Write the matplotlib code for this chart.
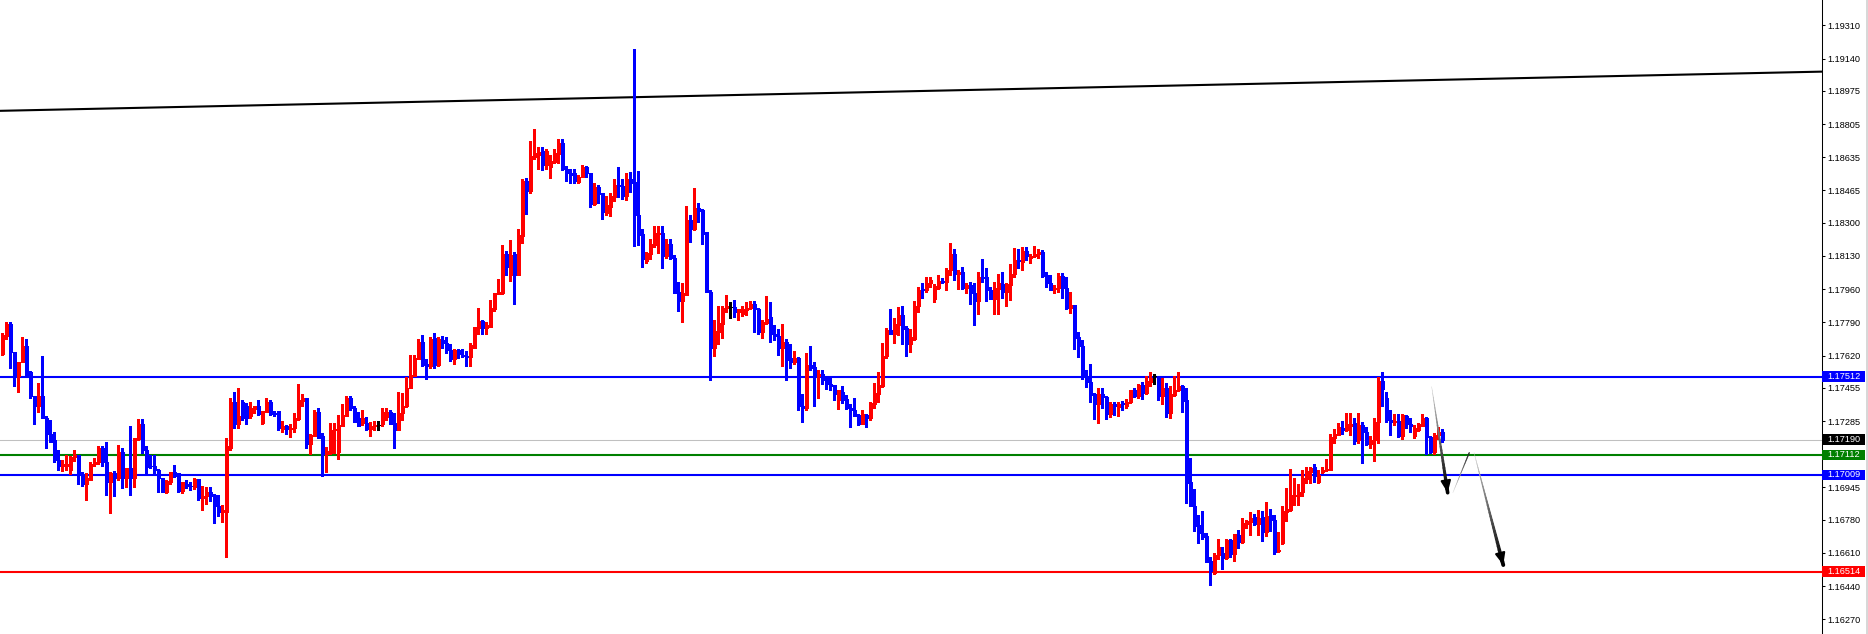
import numpy as np
import matplotlib
matplotlib.use("Agg")
from matplotlib import pyplot as plt
from matplotlib.patches import Rectangle
from matplotlib.transforms import blended_transform_factory

## velas (precio en puntos de 1e-5)
aperturas = [
    117630, 117719, 117784, 117637, 117518, 117586, 117671, 117535, 117412, 117360,
    117415, 117299, 117217, 117186, 117087, 117053, 117053, 117036, 117101, 117111,
    117012, 116961, 116985, 117063, 117074, 117145, 117077, 116971, 117019, 116992,
    117128, 116992, 117043, 116992, 117193, 117272, 117135, 117056, 117056, 117036,
    116995, 116920, 116974, 117026, 117019, 116927, 116964, 116954, 116947, 116988,
    116889, 116899, 116923, 116906, 116851, 116817, 116821, 117149, 117384, 117268,
    117384, 117360, 117309, 117347, 117360, 117275, 117333, 117384, 117326, 117337,
    117244, 117261, 117244, 117248, 117296, 117388, 117401, 117166, 117210, 117333,
    117207, 117114, 117121, 117237, 117128, 117261, 117313, 117405, 117354, 117302,
    117275, 117275, 117244, 117261, 117265, 117268, 117306, 117333, 117275, 117241,
    117326, 117361, 117453, 117518, 117603, 117692, 117579, 117566, 117712, 117572,
    117702, 117685, 117651, 117600, 117651, 117624, 117620, 117613, 117661, 117760,
    117798, 117760, 117767, 117859, 117935, 117941, 118139, 118030, 118139, 118034,
    118232, 118512, 118461, 118635, 118648, 118666, 118594, 118584, 118611, 118652,
    118707, 118577, 118553, 118553, 118508, 118536, 118587, 118553, 118396, 118481,
    118450, 118351, 118382, 118433, 118495, 118488, 118437, 118522, 118508, 118341,
    118242, 118102, 118139, 118184, 118242, 118245, 118129, 118191, 118119, 117945,
    117900, 117931, 118314, 118266, 118375,
    118365, 118252, 117948, 117661, 117743, 117784, 117862, 117869, 117869, 117842,
    117835, 117852, 117862, 117883, 117856, 117743, 117787, 117815, 117733, 117722,
    117658, 117692, 117606, 117589, 117610, 117364, 117350, 117572, 117562, 117514,
    117524, 117504, 117476, 117470, 117394, 117435, 117398, 117353, 117343, 117316,
    117268, 117316, 117299, 117374, 117425, 117463, 117617, 117753, 117733, 117777,
    117828, 117760, 117681, 117705, 117873, 117962, 117955, 117992, 117910, 117968,
    118003, 117996, 118057, 118139, 118037, 118050, 117965, 117979, 117941, 117897,
    118023, 118020, 117955, 117910, 117962,
    117988, 117944, 117981, 118040, 118111, 118101, 118156, 118118, 118128, 118139,
    118152, 118033, 117992, 117961, 117964, 118026, 117968, 117862, 117879, 117715,
    117671, 117513, 117486, 117421, 117373, 117421, 117408, 117319, 117370, 117356,
    117377, 117360, 117380, 117442, 117411, 117469, 117431, 117486, 117513, 117513,
    117411, 117455, 117326, 117418, 117445, 117462, 117394, 116974, 116851, 116752,
    116714, 116697, 116567, 116509, 116598, 116612, 116584, 116677, 116605, 116704,
    116666, 116759, 116769, 116793, 116759, 116793, 116718, 116803, 116776, 116618,
    116659, 116820, 116830, 116899, 116902,
    116923, 116988, 117025, 117049, 116974, 117025, 117032, 117035, 117199, 117216,
    117251, 117237, 117261, 117274, 117186, 117264, 117230, 117165, 117186, 117278,
    117490, 117404, 117292, 117278, 117285, 117206, 117309, 117268, 117210, 117240,
    117261, 117302, 117203, 117128, 117213, 117230,
]
maximos = [
    117736, 117794, 117794, 117637, 117589, 117716, 117705, 117541, 117412, 117480,
    117620, 117313, 117289, 117231, 117138, 117087, 117111, 117108, 117135, 117111,
    117022, 117019, 117074, 117094, 117156, 117156, 117179, 117022, 117029, 117162,
    117145, 117043, 117261, 117196, 117296, 117296, 117156, 117111, 117111, 117039,
    116995, 116985, 117026, 117060, 117019, 116974, 116985, 116971, 116992, 116988,
    116951, 116947, 116947, 116910, 116906, 116855, 117200, 117405, 117436, 117456,
    117395, 117378, 117384, 117364, 117391, 117337, 117401, 117395, 117337, 117337,
    117285, 117265, 117268, 117326, 117473, 117425, 117401, 117217, 117343, 117350,
    117224, 117152, 117275, 117275, 117316, 117374, 117412, 117412, 117360, 117330,
    117343, 117306, 117282, 117285, 117285, 117350, 117350, 117343, 117326, 117432,
    117429, 117508, 117624, 117624, 117706, 117726, 117600, 117716, 117736, 117716,
    117719, 117716, 117678, 117654, 117654, 117654, 117644, 117682, 117767, 117866,
    117801, 117791, 117907, 117938, 118013, 118184, 118153, 118211, 118150, 118269,
    118525, 118529, 118717, 118778, 118686, 118686, 118676, 118648, 118679, 118727,
    118727, 118590, 118573, 118573, 118546, 118597, 118590, 118556, 118505, 118495,
    118450, 118437, 118454, 118525, 118587, 118525, 118556, 118560, 119188, 118566,
    118266, 118150, 118215, 118283, 118283, 118283, 118218, 118215, 118133, 117996,
    117989, 118385, 118338, 118478, 118399,
    118368, 118255, 117958, 117804, 117873, 117873, 117931, 117893, 117907, 117859,
    117876, 117893, 117900, 117897, 117866, 117804, 117924, 117893, 117777, 117757,
    117780, 117705, 117681, 117644, 117613, 117425, 117634, 117671, 117586, 117545,
    117548, 117514, 117504, 117470, 117446, 117463, 117418, 117371, 117401, 117319,
    117340, 117319, 117381, 117480, 117538, 117685, 117760, 117856, 117811, 117869,
    117873, 117770, 117757, 117897, 117972, 117989, 118020, 118020, 117985, 118030,
    118016, 118067, 118194, 118163, 118057, 118074, 117992, 117999, 117992, 118047,
    118115, 118067, 117972, 117996, 118040,
    118050, 117992, 118087, 118173, 118163, 118176, 118176, 118139, 118183, 118166,
    118159, 118050, 118033, 117981, 118043, 118043, 118022, 117944, 117879, 117742,
    117698, 117548, 117578, 117428, 117452, 117452, 117411, 117384, 117380, 117384,
    117387, 117397, 117445, 117455, 117476, 117486, 117513, 117534, 117527, 117517,
    117507, 117479, 117466, 117517, 117534, 117469, 117452, 117097, 116936, 116803,
    116827, 116711, 116588, 116608, 116683, 116642, 116680, 116683, 116707, 116728,
    116789, 116779, 116817, 116810, 116830, 116827, 116871, 116834, 116803, 116718,
    116851, 116940, 117042, 116994, 116963,
    117035, 117052, 117052, 117066, 117035, 117052, 117090, 117220, 117244, 117274,
    117285, 117326, 117326, 117298, 117326, 117281, 117257, 117206, 117298, 117510,
    117538, 117435, 117339, 117322, 117322, 117322, 117315, 117302, 117264, 117274,
    117319, 117305, 117206, 117223, 117257, 117244,
]
minimos = [
    117625, 117705, 117557, 117466, 117432, 117586, 117511, 117401, 117268, 117333,
    117299, 117145, 117176, 117074, 117032, 117029, 117032, 117015, 117080, 116961,
    116951, 116882, 116981, 117056, 117067, 117053, 116906, 116814, 116899, 116985,
    116940, 116947, 116906, 116947, 117190, 117121, 117012, 117046, 117015, 116920,
    116923, 116916, 116964, 117001, 116920, 116916, 116940, 116933, 116937, 116879,
    116828, 116858, 116875, 116763, 116797, 116766, 116588, 117135, 117248, 117248,
    117292, 117268, 117299, 117326, 117316, 117272, 117330, 117316, 117313, 117241,
    117227, 117220, 117203, 117227, 117292, 117360, 117145, 117118, 117207, 117196,
    117005, 117022, 117118, 117121, 117091, 117258, 117309, 117343, 117278, 117258,
    117265, 117241, 117207, 117237, 117237, 117258, 117292, 117268, 117149, 117237,
    117292, 117357, 117453, 117514, 117600, 117566, 117501, 117555, 117555, 117569,
    117661, 117631, 117593, 117579, 117607, 117613, 117566, 117569, 117661, 117733,
    117730, 117730, 117764, 117849, 117935, 117935, 118030, 118003, 117883, 118030,
    118198, 118344, 118454, 118625, 118573, 118570, 118573, 118529, 118607, 118604,
    118570, 118512, 118505, 118502, 118505, 118532, 118536, 118379, 118392, 118399,
    118317, 118338, 118334, 118413, 118430, 118420, 118416, 118457, 118180, 118184,
    118071, 118092, 118112, 118174, 118143, 118068, 118122, 118116, 117938, 117846,
    117794, 117928, 118201, 118262, 118303,
    118190, 117944, 117494, 117617, 117681, 117712, 117845, 117811, 117815, 117801,
    117825, 117828, 117859, 117743, 117729, 117712, 117784, 117692, 117698, 117623,
    117565, 117497, 117555, 117576, 117340, 117278, 117343, 117548, 117364, 117401,
    117476, 117449, 117442, 117394, 117347, 117377, 117347, 117254, 117309, 117265,
    117268, 117254, 117292, 117350, 117381, 117459, 117606, 117729, 117685, 117726,
    117678, 117617, 117637, 117702, 117845, 117914, 117948, 117972, 117893, 117962,
    117989, 117958, 118030, 118006, 117962, 117962, 117941, 117886, 117777, 117832,
    117996, 117897, 117910, 117835, 117835,
    117917, 117872, 117906, 118022, 118070, 118060, 118108, 118094, 118125, 118118,
    118022, 117971, 117954, 117940, 117944, 117913, 117858, 117838, 117654, 117613,
    117500, 117459, 117384, 117295, 117274, 117350, 117295, 117305, 117315, 117309,
    117343, 117353, 117377, 117408, 117404, 117397, 117421, 117466, 117476, 117394,
    117370, 117305, 117298, 117414, 117438, 117332, 116868, 116851, 116724, 116659,
    116680, 116564, 116444, 116502, 116581, 116530, 116581, 116588, 116571, 116636,
    116659, 116735, 116704, 116752, 116704, 116673, 116697, 116724, 116605, 116615,
    116656, 116772, 116827, 116854, 116854,
    116899, 116967, 116970, 116974, 116970, 117018, 117029, 117032, 117175, 117213,
    117220, 117233, 117213, 117169, 117175, 117070, 117162, 117145, 117083, 117175,
    117360, 117281, 117216, 117264, 117203, 117192, 117251, 117227, 117196, 117233,
    117261, 117117, 117121, 117117, 117192, 117179,
]
cierres = [
    117723, 117784, 117637, 117514, 117589, 117671, 117514, 117412, 117360, 117415,
    117299, 117217, 117179, 117084, 117053, 117063, 117067, 117101, 117111, 117012,
    116961, 116992, 117067, 117077, 117145, 117074, 116971, 117019, 116992, 117128,
    116992, 117043, 116992, 117196, 117272, 117135, 117050, 117053, 117036, 116992,
    116923, 116978, 117022, 117005, 116927, 116971, 116954, 116951, 116988, 116889,
    116903, 116923, 116903, 116848, 116817, 116831, 117156, 117384, 117268, 117313,
    117302, 117302, 117350, 117360, 117319, 117337, 117384, 117319, 117323, 117248,
    117261, 117244, 117251, 117299, 117391, 117401, 117166, 117214, 117333, 117200,
    117114, 117132, 117241, 117244, 117265, 117316, 117405, 117350, 117282, 117261,
    117302, 117244, 117261, 117265, 117265, 117333, 117333, 117272, 117241, 117326,
    117364, 117456, 117521, 117607, 117692, 117572, 117566, 117706, 117572, 117706,
    117685, 117651, 117600, 117651, 117627, 117617, 117613, 117672, 117764, 117798,
    117760, 117774, 117866, 117938, 117948, 118139, 118071, 118133, 118030, 118235,
    118512, 118461, 118642, 118655, 118662, 118597, 118666, 118614, 118659, 118707,
    118573, 118553, 118546, 118512, 118536, 118584, 118553, 118396, 118481, 118447,
    118355, 118389, 118437, 118495, 118488, 118437, 118522, 118505, 118341, 118235,
    118116, 118146, 118191, 118245, 118245, 118129, 118191, 118119, 117938, 117900,
    117941, 118314, 118269, 118375, 118362,
    118242, 117948, 117661, 117746, 117787, 117862, 117873, 117869, 117842, 117859,
    117856, 117866, 117883, 117856, 117743, 117791, 117808, 117729, 117719, 117658,
    117692, 117599, 117586, 117610, 117360, 117350, 117572, 117558, 117514, 117528,
    117497, 117473, 117466, 117422, 117442, 117394, 117350, 117340, 117313, 117268,
    117319, 117299, 117377, 117429, 117470, 117620, 117753, 117733, 117784, 117828,
    117757, 117681, 117716, 117876, 117958, 117955, 117992, 118009, 117975, 118003,
    117996, 118057, 118139, 118037, 118050, 117965, 117979, 117938, 117897, 118023,
    118016, 117955, 117910, 117965, 117989,
    117944, 117985, 118040, 118111, 118104, 118156, 118128, 118132, 118142, 118152,
    118029, 117992, 117958, 117968, 118026, 117968, 117862, 117879, 117712, 117667,
    117513, 117483, 117418, 117373, 117425, 117408, 117319, 117370, 117360, 117373,
    117370, 117380, 117442, 117411, 117469, 117431, 117490, 117507, 117513, 117411,
    117455, 117326, 117421, 117445, 117462, 117390, 116970, 116851, 116748, 116714,
    116694, 116564, 116516, 116598, 116642, 116584, 116677, 116605, 116707, 116666,
    116762, 116772, 116789, 116759, 116789, 116718, 116800, 116779, 116615, 116625,
    116827, 116837, 116909, 116909, 116923,
    116991, 117029, 117046, 117005, 117008, 117035, 117042, 117203, 117220, 117254,
    117237, 117271, 117271, 117182, 117264, 117227, 117165, 117189, 117281, 117490,
    117449, 117292, 117278, 117285, 117210, 117315, 117268, 117261, 117251, 117271,
    117302, 117203, 117128, 117213, 117230, 117190,
]

## eje de precios
marcas_precio = [1.19310, 1.19140, 1.18975, 1.18805, 1.18635, 1.18465, 1.18300,
                 1.18130, 1.17960, 1.17790, 1.17620, 1.17455, 1.17285, 1.16945,
                 1.16780, 1.16610, 1.16440, 1.16270]

## niveles horizontales
niveles = [1.17512, 1.17190, 1.17112, 1.17009, 1.16514]
colores_nivel = ['#0000FF', '#C0C0C0', '#008000', '#0000FF', '#FF0000']
fondos_etiqueta = ['#0000FF', '#000000', '#008000', '#0000FF', '#FF0000']

## linea de tendencia (indice de vela, precio)
tendencia_x = [0, 454]
tendencia_y = [1.18873, 1.19073]

## flechas dibujadas (indice de vela, precio)
flecha1_x, flecha1_y = [357.3, 361.3], [1.17461, 1.16918]
rebote_x, rebote_y = [362.6, 366.7], [1.16918, 1.17123]
flecha2_x, flecha2_y = [367.9, 375.2], [1.17123, 1.16548]

FUENTE = ['Liberation Sans', 'DejaVu Sans']
TAM = 6.6


def trazo_degradado(ax, xs, ys, w0, w1, g0, g1, n=30):
    # segmentos cortos con grosor y gris que cambian
    tx = np.linspace(xs[0], xs[1], n + 1)
    ty = np.linspace(ys[0], ys[1], n + 1)
    for k in range(n):
        f = k / (n - 1)
        g = g0 + (g1 - g0) * f
        ax.plot(tx[k:k + 2], ty[k:k + 2], color=(g, g, g),
                lw=w0 + (w1 - w0) * f, solid_capstyle='round', zorder=6)


def punta(ax, xs, ys):
    dx = (xs[1] - xs[0]) * 0.08
    dy = (ys[1] - ys[0]) * 0.08
    ax.annotate('', xy=(xs[1], ys[1]), xytext=(xs[1] - dx, ys[1] - dy),
                arrowprops=dict(arrowstyle='-|>,head_length=0.7,head_width=0.3',
                                color='black', lw=1.5, shrinkA=0, shrinkB=0),
                zorder=7)


o = np.array(aperturas) / 1e5
h = np.array(maximos) / 1e5
l = np.array(minimos) / 1e5
c = np.array(cierres) / 1e5
x = np.arange(len(o))

colores = np.where(c > o, '#FF0000', np.where(c < o, '#0000FF', '#000000'))

W, H = 1868, 634
fig = plt.figure(figsize=(W / 100, H / 100), dpi=100)
fig.patch.set_facecolor('white')
eje_x = 1821.7
ax = fig.add_axes([0, 0, eje_x / W, 1])
ax.set_facecolor('white')

ax.set_xlim(-0.58, 454.8)
ax.set_ylim(1.16195, 1.19440)

# niveles
for p, col in zip(niveles, colores_nivel):
    lw = 0.75 if col == '#C0C0C0' else 1.5
    ax.axhline(p, color=col, lw=lw, zorder=1)

# tendencia
ax.axline((tendencia_x[0], tendencia_y[0]), (tendencia_x[1], tendencia_y[1]),
          color='black', lw=1.5, zorder=1)

# velas
ax.vlines(x, l, h, colors=colores, lw=0.75, antialiased=False, zorder=3)
ax.bar(x, np.abs(c - o), bottom=np.minimum(o, c), width=0.6,
       color=colores, edgecolor=colores, lw=0.5, antialiased=False, zorder=4)
doji = c == o
ax.hlines(o[doji], x[doji] - 0.4, x[doji] + 0.4, colors='black', lw=0.75, zorder=4)

# flechas
trazo_degradado(ax, flecha1_x, flecha1_y, 0.3, 2.6, 0.8, 0.0)
punta(ax, flecha1_x, flecha1_y)
trazo_degradado(ax, rebote_x, rebote_y, 0.3, 0.9, 0.85, 0.15)
trazo_degradado(ax, flecha2_x, flecha2_y, 0.3, 2.8, 0.8, 0.0)
punta(ax, flecha2_x, flecha2_y)

# ejes
for lado in ['left', 'top', 'bottom']:
    ax.spines[lado].set_visible(False)
ax.spines['right'].set_linewidth(0.75)
ax.spines['right'].set_color('black')
ax.set_xticks([])
ax.yaxis.tick_right()
ax.set_yticks(marcas_precio)
ax.set_yticklabels(['%.5f' % p for p in marcas_precio], family=FUENTE)
ax.tick_params(axis='y', direction='out', length=2.2, width=0.75, pad=2.2,
               labelsize=TAM, colors='black')

# etiquetas de precio en el eje
tr = blended_transform_factory(fig.transFigure, ax.transData)
alto = 10.5 * (1.19440 - 1.16195) / H
for p, fondo in zip(niveles, fondos_etiqueta):
    ax.add_patch(Rectangle((1822 / W, p - alto / 2), 43 / W, alto, transform=tr,
                           facecolor=fondo, edgecolor='none', clip_on=False, zorder=8))
    ax.text(1827.7 / W, p, '%.5f' % p, transform=tr, color='white', fontsize=TAM,
            family=FUENTE, ha='left', va='center', clip_on=False, zorder=9)

# borde derecho
fig.patches.append(Rectangle((1866 / W, 0), 2 / W, 1, transform=fig.transFigure,
                             facecolor='#D8D8D8', edgecolor='none'))

fig.savefig('out.png', dpi=100)
